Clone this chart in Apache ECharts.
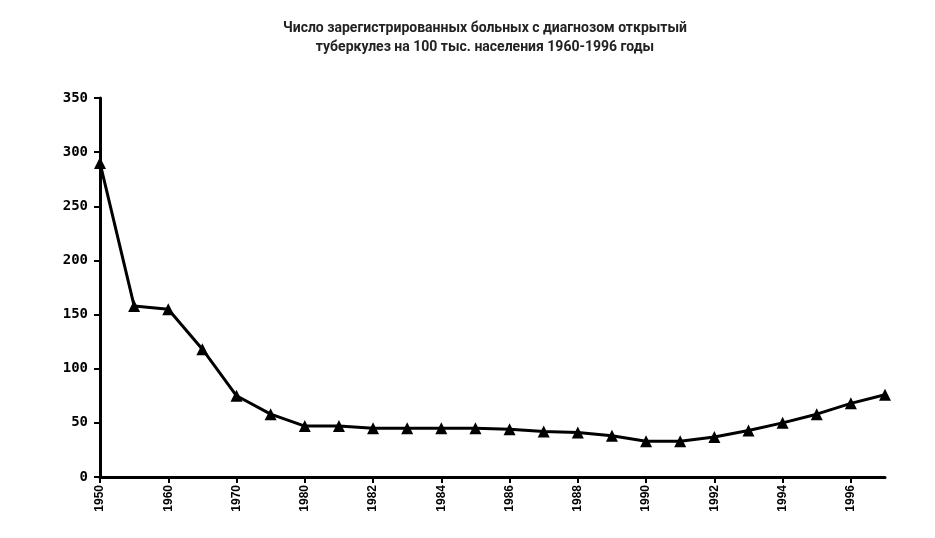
<!DOCTYPE html><html><head><meta charset="utf-8"><script src="https://cdn.jsdelivr.net/npm/echarts@6/dist/echarts.min.js"></script></head><body style="margin:0;background:#fff"><div id="c" style="width:935px;height:538px"></div><script>
const categories=['1950','1955','1960','1965','1970','1975','1980','1981','1982','1983','1984','1985','1986','1987','1988','1989','1990','1991','1992','1993','1994','1995','1996','1997'];
const values=[290,158,155,118,75,58,47,47,45,45,45,45,44,42,41,38,33,33,37,43,50,58,68,76];
const yTicks=[0,50,100,150,200,250,300,350];
const chart=echarts.init(document.getElementById('c'));
chart.setOption({
 animation:false,
 title:{text:'Число зарегистрированных больных с диагнозом открытый\nтуберкулез на 100 тыс. населения 1960-1996 годы',left:480,top:14,textAlign:'center',textStyle:{fontFamily:'Roboto',fontSize:14,fontWeight:'bold',color:'#222',lineHeight:19}},
 grid:{left:100,right:50,top:98,bottom:61},
 xAxis:{type:'category',data:categories,boundaryGap:false,
  axisLine:{lineStyle:{color:'#000',width:3}},
  axisTick:{length:6,lineStyle:{color:'#000',width:2}},
  axisLabel:{rotate:90,interval:(i)=>i%2===0,color:'#000',fontFamily:'Arial',fontWeight:'bold',fontSize:12,margin:8}},
 yAxis:{type:'value',min:0,max:350,interval:50,
  axisLine:{show:true,lineStyle:{color:'#000',width:3}},
  axisTick:{show:true,length:6,lineStyle:{color:'#000',width:2}},
  splitLine:{show:false},
  axisLabel:{color:'#000',fontFamily:'DejaVu Sans Mono',fontWeight:'bold',fontSize:14,margin:12,formatter:v=>yTicks.includes(v)?String(v):''}},
 series:[{type:'line',data:values,symbol:'triangle',symbolSize:12,lineStyle:{color:'#000',width:3},itemStyle:{color:'#000'}}]
});
</script></body></html>
